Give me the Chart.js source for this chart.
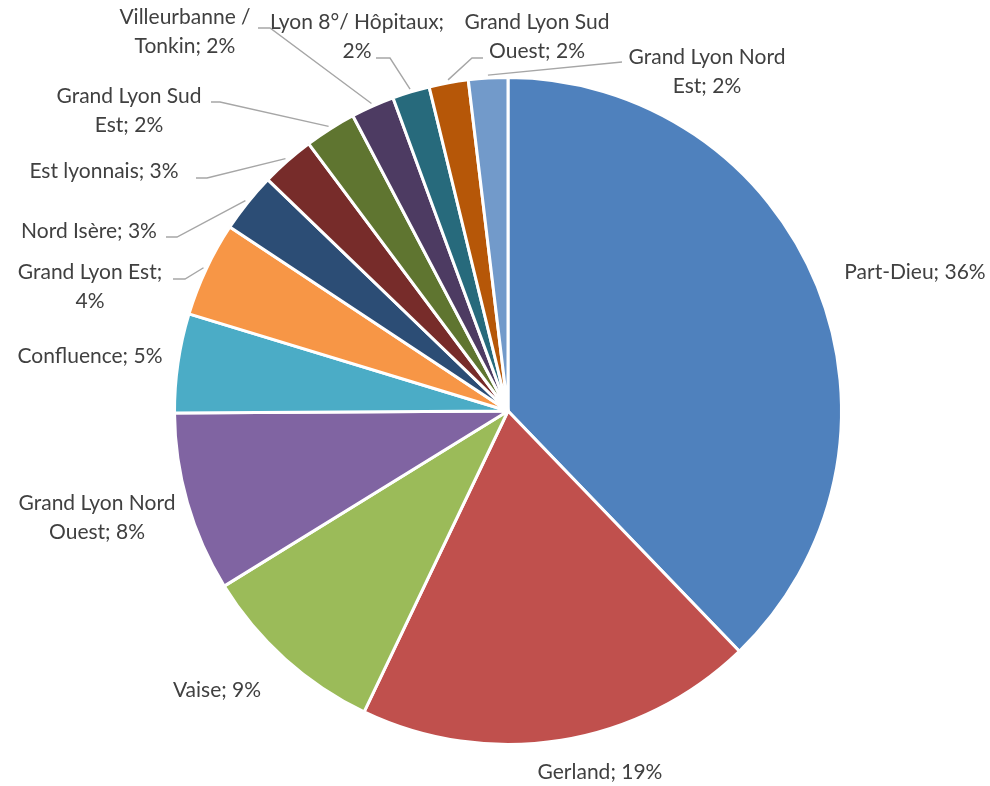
<!DOCTYPE html>
<html>
<head>
<meta charset="utf-8">
<script src="https://cdn.jsdelivr.net/npm/chart.js@4.4.0/dist/chart.umd.min.js"></script>
<style>
  html, body { margin: 0; padding: 0; background: #fff; }
  #wrap { width: 990px; height: 786px; }
</style>
</head>
<body>
<div id="wrap"><canvas id="mycanvas" width="990" height="786"></canvas></div>
<script>
// data
var sites = ['Part-Dieu', 'Gerland', 'Vaise', 'Grand Lyon Nord Ouest', 'Confluence',
  'Grand Lyon Est', 'Nord Isère', 'Est lyonnais', 'Grand Lyon Sud Est',
  'Villeurbanne / Tonkin', 'Lyon 8°/ Hôpitaux', 'Grand Lyon Sud Ouest', 'Grand Lyon Nord Est'];
var shares = [37.8, 19.3, 9.1, 8.7, 4.8, 4.6, 2.9, 2.6, 2.5, 2.1, 1.8, 1.9, 1.9];
var shownPct = [36, 19, 9, 8, 5, 4, 3, 3, 2, 2, 2, 2, 2];

var colors = ['#4F81BD', '#C0504D', '#9BBB59', '#8064A2', '#4BACC6', '#F79646',
  '#2C4D75', '#772C2A', '#5F7530', '#4D3B62', '#276A7C', '#B65708', '#729ACA'];

// label placement (text centre, words on first line, leader start + elbow)
var labelLayout = [
  { x: 915, y: 272 },
  { x: 600, y: 772 },
  { x: 217, y: 690 },
  { x: 97, y: 503, br: 3 },
  { x: 90, y: 356 },
  { x: 90, y: 272, br: 3, lead: [173, 279, 185, 279] },
  { x: 89, y: 231, lead: [166, 237, 177, 237] },
  { x: 104, y: 171, lead: [196, 178, 207, 178] },
  { x: 129, y: 96, br: 3, lead: [211, 102, 220, 102] },
  { x: 185, y: 17, br: 2, lead: [258, 28, 270, 28] },
  { x: 357, y: 22, br: 3, lead: [376, 58, 390, 58] },
  { x: 537, y: 22, br: 3, lead: [483, 58, 472, 58] },
  { x: 707, y: 57, br: 3, lead: [622, 62, 622, 62] }
];

var pieLabels = {
  id: 'pieLabels',
  afterDatasetsDraw: function(chart) {
    var ctx = chart.ctx;
    var arcs = chart.getDatasetMeta(0).data;
    ctx.save();
    ctx.font = '21px Lato';
    ctx.fillStyle = '#404040';
    ctx.textAlign = 'center';
    ctx.textBaseline = 'middle';
    for (var i = 0; i < arcs.length; i++) {
      var a = arcs[i].getProps(['x', 'y', 'startAngle', 'endAngle', 'outerRadius'], true);
      var L = labelLayout[i];
      var text = sites[i] + '; ' + shownPct[i] + '%';
      var lines = [text];
      if (L.br) {
        var w = text.split(' ');
        lines = [w.slice(0, L.br).join(' '), w.slice(L.br).join(' ')];
      }
      for (var j = 0; j < lines.length; j++) {
        ctx.fillText(lines[j], L.x, L.y + j * 29.5);
      }
      if (L.lead) {
        var mid = (a.startAngle + a.endAngle) / 2;
        var r = a.outerRadius + 3;
        ctx.beginPath();
        ctx.strokeStyle = '#a6a6a6';
        ctx.lineWidth = 1.4;
        ctx.moveTo(L.lead[0], L.lead[1]);
        ctx.lineTo(L.lead[2], L.lead[3]);
        ctx.lineTo(a.x + Math.cos(mid) * r, a.y + Math.sin(mid) * r);
        ctx.stroke();
      }
    }
    ctx.restore();
  }
};

var ctx = document.getElementById('mycanvas');
var pieChart = new Chart(ctx, {
  type: 'pie',
  data: {
    labels: sites,
    datasets: [{
      data: shares,
      backgroundColor: colors,
      borderColor: '#ffffff',
      borderWidth: 3
    }]
  },
  options: {
    responsive: false,
    animation: false,
    events: [],
    layout: { padding: { top: 76, bottom: 40, left: 173, right: 147 } },
    plugins: {
      legend: { display: false },
      tooltip: { enabled: false }
    }
  },
  plugins: [pieLabels]
});
</script>
</body>
</html>
